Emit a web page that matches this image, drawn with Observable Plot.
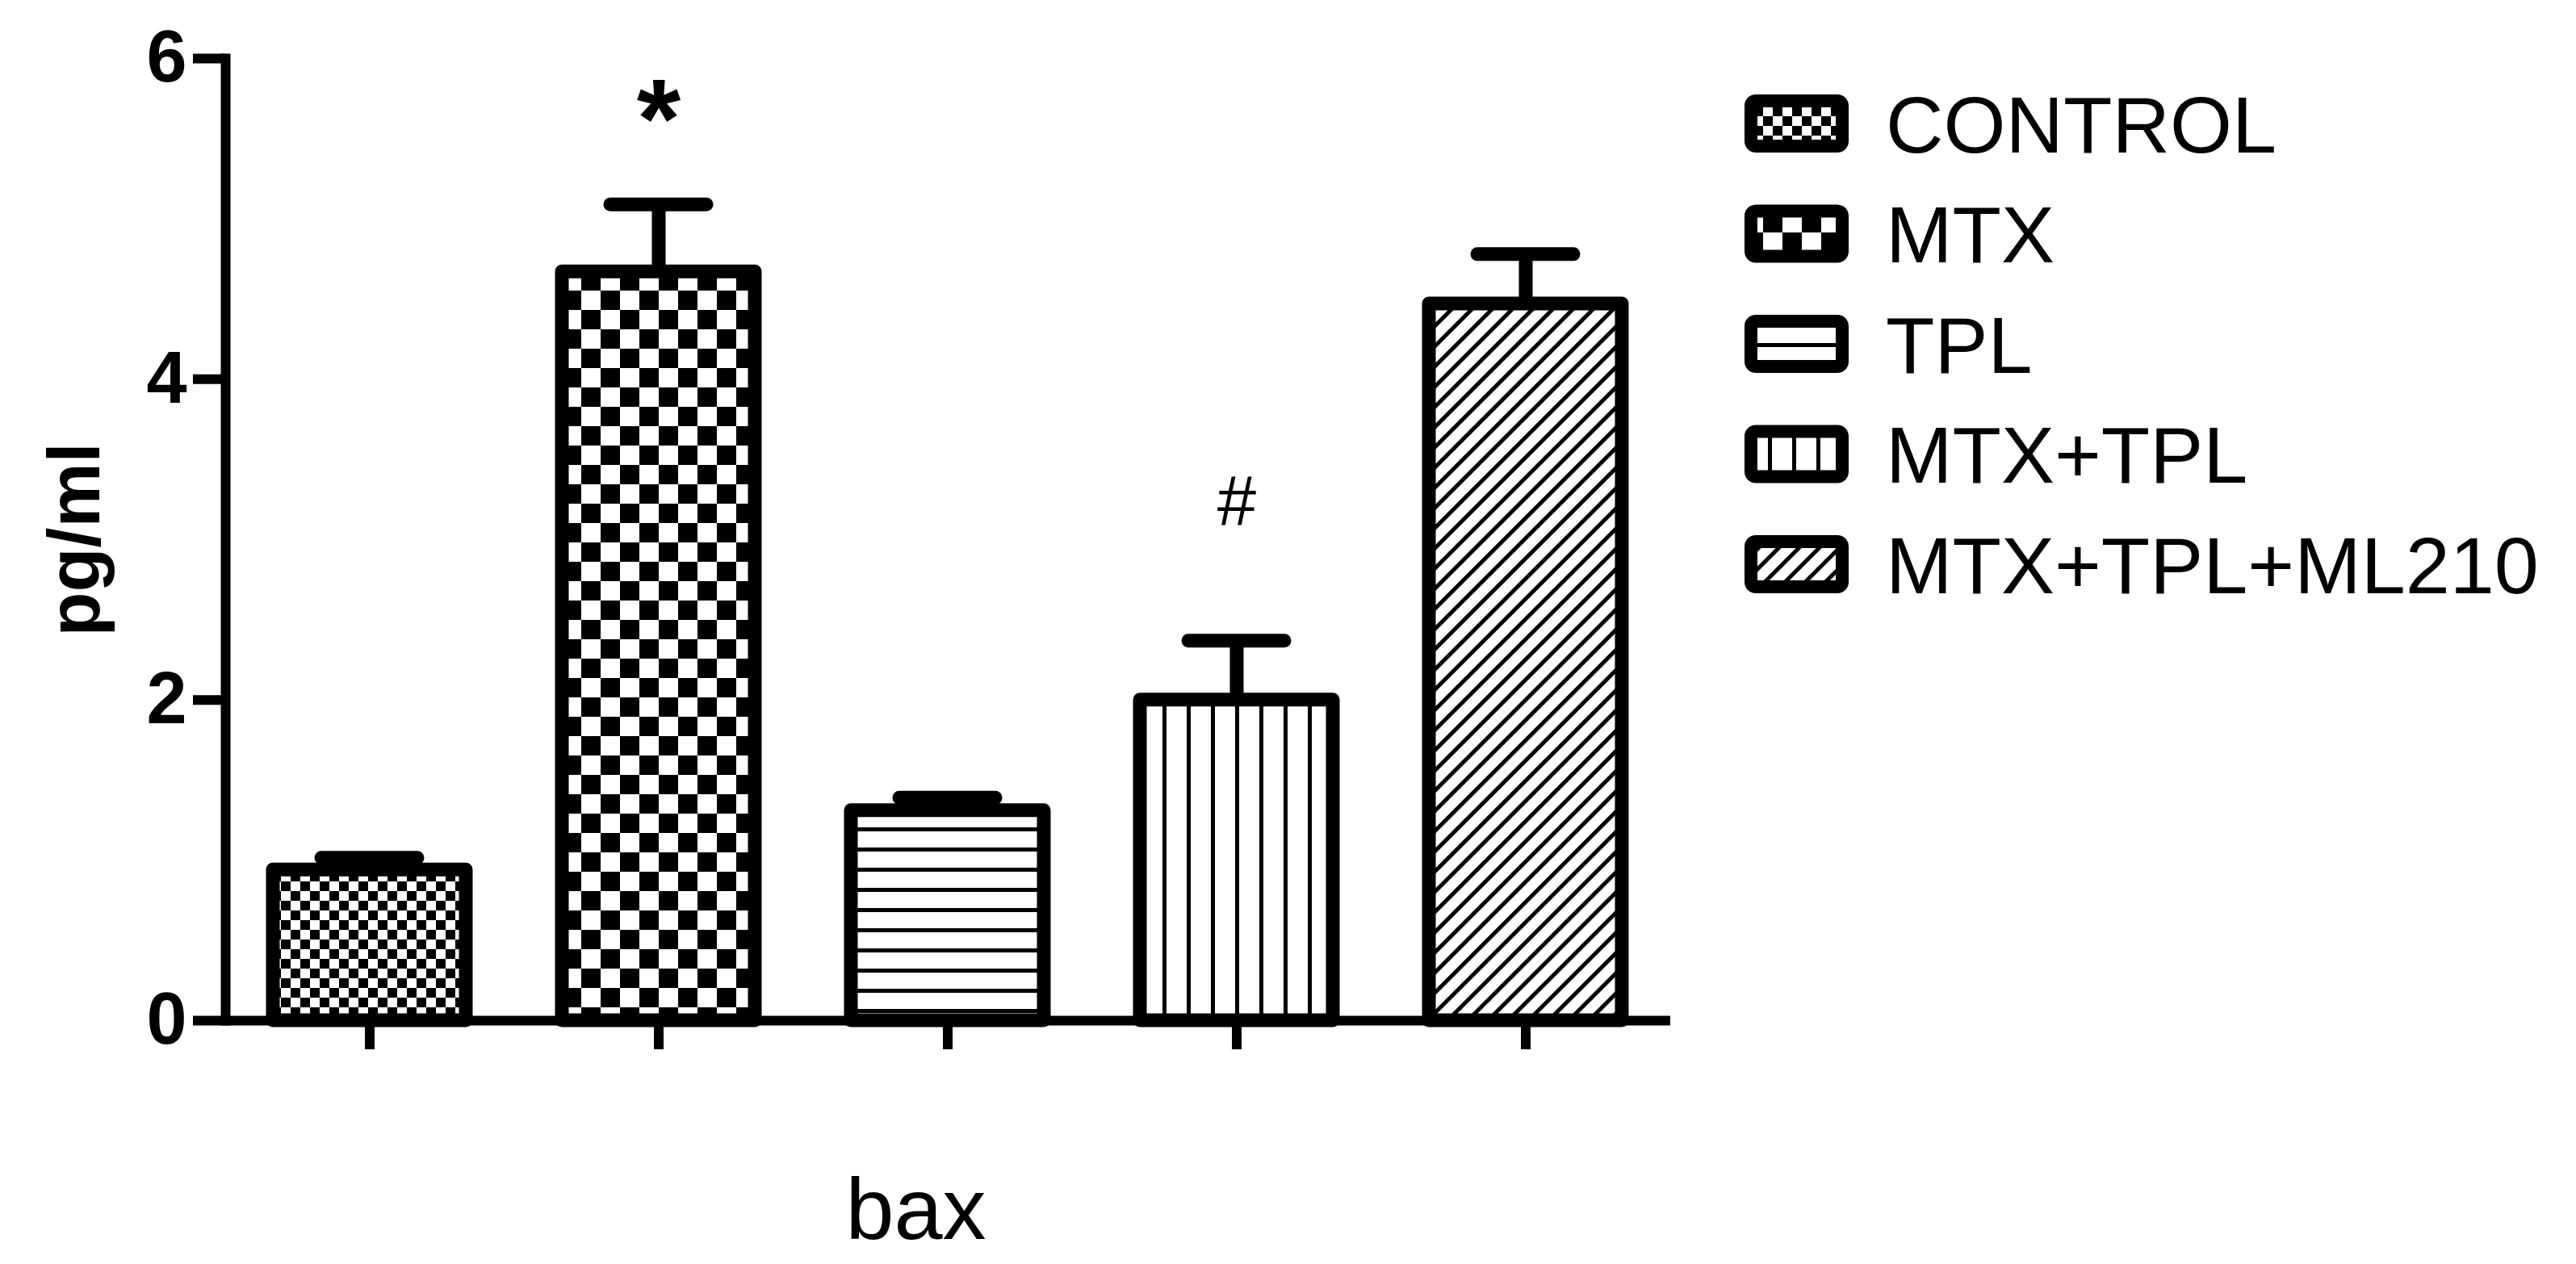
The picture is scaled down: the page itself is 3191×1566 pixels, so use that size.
<!DOCTYPE html>
<html><head><meta charset="utf-8">
<script src="https://cdn.jsdelivr.net/npm/d3@7"></script>
<script src="https://cdn.jsdelivr.net/npm/@observablehq/plot@0.6"></script>
<style>
html,body{margin:0;padding:0;background:#fff;}
#wrap{position:relative;width:3191px;height:1566px;}
#legend{position:absolute;left:0;top:0;pointer-events:none;}
#wrap svg [aria-label="y-axis tick label"] text, #wrap svg [aria-label="y-axis label"] text{font-weight:bold;}
</style></head><body>
<svg width="0" height="0" style="position:absolute">
<defs>
<pattern id="p-control" patternUnits="userSpaceOnUse" width="24" height="24">
<rect width="24" height="24" fill="#fff"/><rect x="0" y="0" width="12" height="12" fill="#000"/><rect x="12" y="12" width="12" height="12" fill="#000"/>
</pattern>
<pattern id="p-mtx" patternUnits="userSpaceOnUse" width="48" height="48">
<rect width="48" height="48" fill="#fff"/><rect x="0" y="0" width="24" height="24" fill="#000"/><rect x="24" y="24" width="24" height="24" fill="#000"/>
</pattern>
<pattern id="p-tpl" patternUnits="userSpaceOnUse" width="10" height="25">
<rect width="10" height="25" fill="#fff"/><rect x="0" y="0" width="10" height="5" fill="#000"/>
</pattern>
<pattern id="p-mtxtpl" patternUnits="userSpaceOnUse" width="30" height="10">
<rect width="30" height="10" fill="#fff"/><rect x="0" y="0" width="5" height="10" fill="#000"/>
</pattern>
<pattern id="p-ml210" patternUnits="userSpaceOnUse" width="17.7" height="10" patternTransform="rotate(45)">
<rect width="17.7" height="10" fill="#fff"/><rect x="0" y="0" width="5" height="10" fill="#000"/>
</pattern>
</defs></svg>
<div id="wrap"></div>
<script>
// ---- data ----
const categories = ["CONTROL", "MTX", "TPL", "MTX+TPL", "MTX+TPL+ML210"];
const means = [0.94, 4.67, 1.31, 2.00, 4.47];
const errors = [0.075, 0.42, 0.08, 0.37, 0.31];
const yTicks = [0, 2, 4, 6];
const starCategories = ["MTX"];
const starValues = [5.72];
const hashCategories = ["MTX+TPL"];
const hashValues = [3.05];
const yLabel = "pg/ml";
const xLabel = "bax";

// ---- styles ----
const patternFills = ["url(#p-control)", "url(#p-mtx)", "url(#p-tpl)", "url(#p-mtxtpl)", "url(#p-ml210)"];

const bars = categories.map((c, i) => ({cat: c, mean: means[i], hi: means[i] + errors[i]}));
const stars = starCategories.map((c, i) => ({cat: c, y: starValues[i], t: "*"}));
const hashes = hashCategories.map((c, i) => ({cat: c, y: hashValues[i], t: "#"}));

const plot = Plot.plot({
  width: 3191, height: 1566,
  marginLeft: 279, marginRight: 1122, marginTop: 72, marginBottom: 302,
  style: {fontFamily: "'Liberation Sans', Arial, sans-serif", background: "#fff", color: "#000", overflow: "visible"},
  x: {domain: categories, paddingInner: 0.332, paddingOuter: 0.166},
  y: {domain: [0, 6]},
  color: {type: "ordinal", domain: categories, range: patternFills},
  marks: [
    Plot.barY(bars, {x: "cat", y: "mean", fill: "cat", stroke: "#000", strokeWidth: 17, strokeLinejoin: "round"}),
    Plot.ruleX(bars, {x: "cat", y1: "mean", y2: "hi", stroke: "#000", strokeWidth: 17}),
    Plot.tickY(bars, {x: "cat", y: "hi", stroke: "#000", strokeWidth: 17, strokeLinecap: "round", inset: 60}),
    Plot.text(stars, {x: "cat", y: "y", text: "t", fontSize: 140, fontWeight: "bold", dy: 22, fill: "#000"}),
    Plot.text(hashes, {x: "cat", y: "y", text: "t", fontSize: 87, dy: -36, fill: "#000"}),
    Plot.ruleY([0], {stroke: "#000", strokeWidth: 12}),
    Plot.frame({anchor: "left", stroke: "#000", strokeWidth: 12}),
    Plot.axisY({ticks: yTicks, tickFormat: d => String(d), tickSize: 40, tickPadding: 8, strokeWidth: 12, fontSize: 90, fontWeight: "bold",
      label: yLabel, labelArrow: false, labelAnchor: "center", labelOffset: 220}),
    Plot.axisX({tickSize: 36, strokeWidth: 12, tickFormat: () => "", label: xLabel, labelArrow: false, labelAnchor: "center", labelOffset: 270, fontSize: 108})
  ]
});
document.getElementById("wrap").appendChild(plot);

// clean axis labels (no arrows) and nudge x label
plot.querySelectorAll('[aria-label="y-axis label"] text').forEach(t => { t.textContent = yLabel; });
plot.querySelectorAll('[aria-label="x-axis label"] text').forEach(t => { t.textContent = xLabel; });
const xl = plot.querySelector('[aria-label="x-axis label"]');
if (xl) xl.setAttribute("transform", ((xl.getAttribute("transform") || "") + " translate(-40,0)").trim());

// ---- legend ----
const legend = d3.select("#wrap").append("svg").attr("id", "legend").attr("width", 3191).attr("height", 1566);
const rowTop = 153, rowStep = 136.5;
categories.forEach((c, i) => {
  const cy = rowTop + i * rowStep;
  legend.append("rect").attr("x", 2169).attr("y", cy - 28).attr("width", 113).attr("height", 56)
    .attr("rx", 6).attr("fill", patternFills[i]).attr("stroke", "#000").attr("stroke-width", 16);
  legend.append("text").attr("x", 2336).attr("y", cy).attr("dy", "0.36em")
    .attr("font-family", "'Liberation Sans', Arial, sans-serif").attr("font-size", 99).attr("fill", "#000").text(c);
});
</script>
</body></html>
